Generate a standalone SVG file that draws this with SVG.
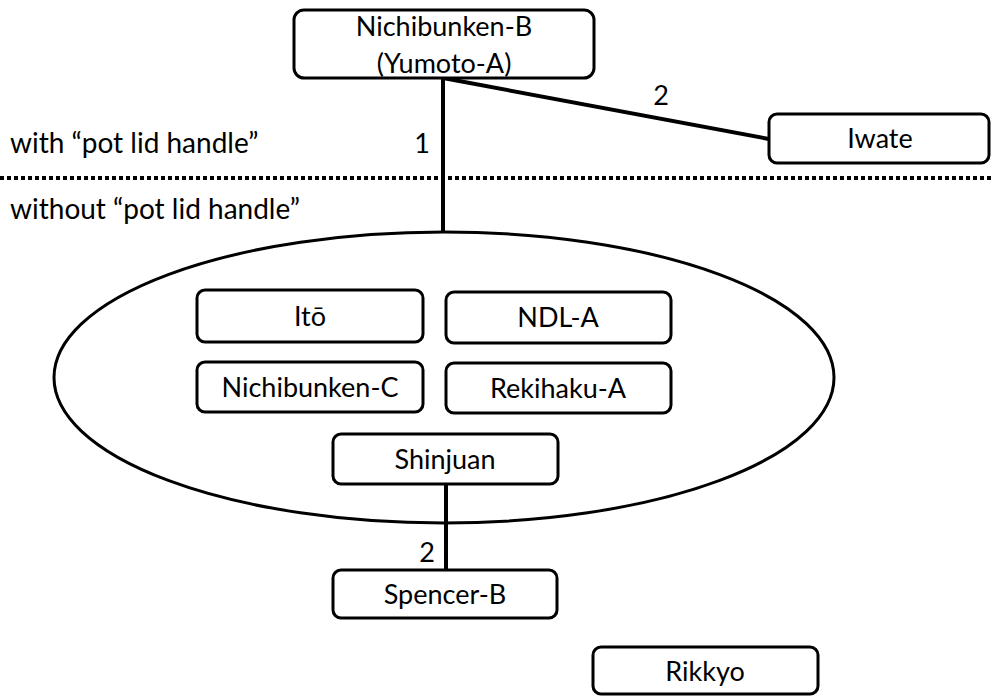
<svg xmlns="http://www.w3.org/2000/svg" width="992" height="697" viewBox="0 0 992 697">
<style>
  .box { fill: #ffffff; stroke: #000000; stroke-width: 3; }
  .lbl { font-family: Lato, "Liberation Sans", sans-serif; font-size: 27px; fill: #000000; }
  .mid { text-anchor: middle; }
  .conn { stroke: #000000; stroke-width: 4; fill: none; }
</style>
<rect width="992" height="697" fill="#ffffff"/>
<g id="divider">
  <line x1="0" y1="178" x2="992" y2="178" stroke="#000000" stroke-width="4" stroke-dasharray="4 3"/>
  <text class="lbl" x="10" y="153" style="font-size:28px">with “pot lid handle”</text>
  <text class="lbl" x="10" y="219" style="font-size:28px">without “pot lid handle”</text>
</g>
<g id="group-ellipse">
  <ellipse cx="444" cy="377.5" rx="390" ry="145.5" fill="none" stroke="#000000" stroke-width="3"/>
</g>
<g id="connectors">
  <line class="conn" x1="443" y1="78" x2="443" y2="232"/>
  <line class="conn" x1="443" y1="78" x2="769" y2="139"/>
  <line class="conn" x1="446" y1="484" x2="446" y2="570"/>
  <text class="lbl mid" x="422" y="153">1</text>
  <text class="lbl mid" x="661" y="105">2</text>
  <text class="lbl mid" x="427" y="562">2</text>
</g>
<g id="nichibunken-b">
  <rect class="box" x="294" y="10" width="300" height="68" rx="10"/>
  <text class="lbl mid" x="444" y="36">Nichibunken-B</text>
  <text class="lbl mid" x="444" y="73">(Yumoto-A)</text>
</g>
<g id="iwate">
  <rect class="box" x="769" y="114" width="220" height="49" rx="8"/>
  <text class="lbl mid" x="880" y="148">Iwate</text>
</g>
<g id="ito">
  <rect class="box" x="197" y="290" width="226" height="52" rx="8"/>
  <text class="lbl mid" x="310" y="326">Itō</text>
</g>
<g id="ndl-a">
  <rect class="box" x="446" y="292" width="225" height="51" rx="8"/>
  <text class="lbl mid" x="558" y="327">NDL-A</text>
</g>
<g id="nichibunken-c">
  <rect class="box" x="197" y="362" width="226" height="50" rx="8"/>
  <text class="lbl mid" x="310" y="397">Nichibunken-C</text>
</g>
<g id="rekihaku-a">
  <rect class="box" x="446" y="363" width="225" height="50" rx="8"/>
  <text class="lbl mid" x="558" y="398">Rekihaku-A</text>
</g>
<g id="shinjuan">
  <rect class="box" x="333" y="434" width="225" height="50" rx="8"/>
  <text class="lbl mid" x="445" y="469">Shinjuan</text>
</g>
<g id="spencer-b">
  <rect class="box" x="333" y="570" width="224" height="48" rx="8"/>
  <text class="lbl mid" x="445" y="604">Spencer-B</text>
</g>
<g id="rikkyo">
  <rect class="box" x="593" y="647" width="225" height="47" rx="8"/>
  <text class="lbl mid" x="705" y="681">Rikkyo</text>
</g>
</svg>
